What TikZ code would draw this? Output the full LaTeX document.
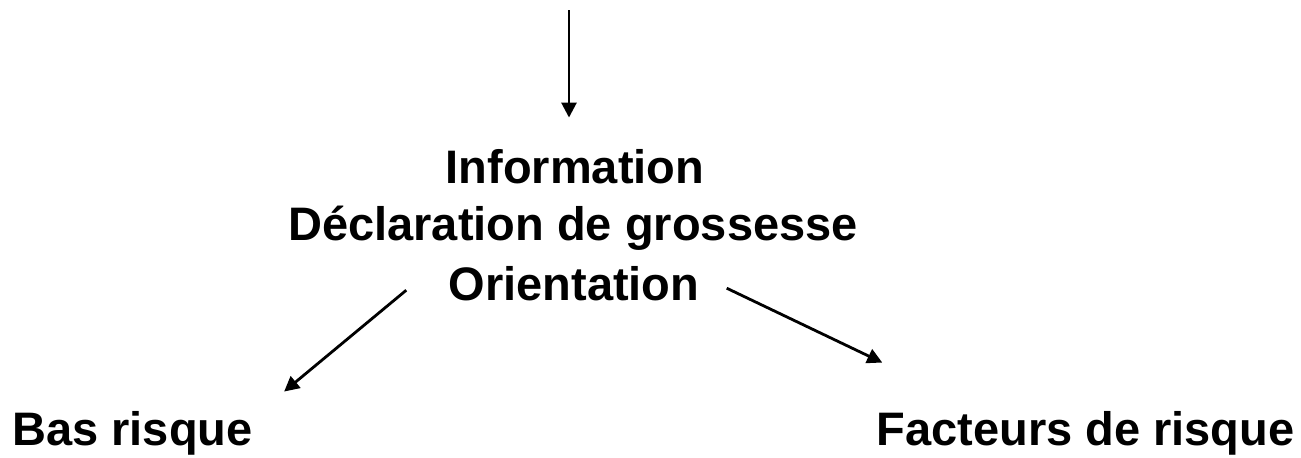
\documentclass[tikz,border=0pt]{standalone}
\usepackage{fontspec}
\setmainfont{Liberation Sans}
\usetikzlibrary{arrows.meta,positioning}

\begin{document}
\begin{tikzpicture}[x=0.5pt,y=-0.5pt,
    lbl/.style={font=\bfseries\fontsize{23.5}{29}\selectfont, inner sep=0pt},
    fleche/.style={-{Triangle[length=7.5pt,width=7.5pt]}, line width=1.4pt}]
    \useasboundingbox (0,0) rectangle (1301,457);
    % bloc central
    \node[lbl, anchor=base] (info) at (575,183) {Information};
    \node[lbl, anchor=base] (decl) at (573,240) {Déclaration de grossesse};
    \node[lbl, anchor=base] (orient) at (574,300) {Orientation};
    % les deux issues
    \node[lbl, anchor=base west] (bas) at (12,445) {Bas risque};
    \node[lbl, anchor=base east] (fact) at (1295,445) {Facteurs de risque};
    \coordinate (haut) at (569,10);

    \draw[fleche] (haut) -- ([shift={(-6,-31)}]info.north);
    \draw[fleche] ([shift={(-42,7)}]orient.west) -- ([shift={(31,-19)}]bas.north east);
    \draw[fleche] ([shift={(27,5)}]orient.east) -- ([shift={(6,-48)}]fact.north west);
\end{tikzpicture}
\end{document}
